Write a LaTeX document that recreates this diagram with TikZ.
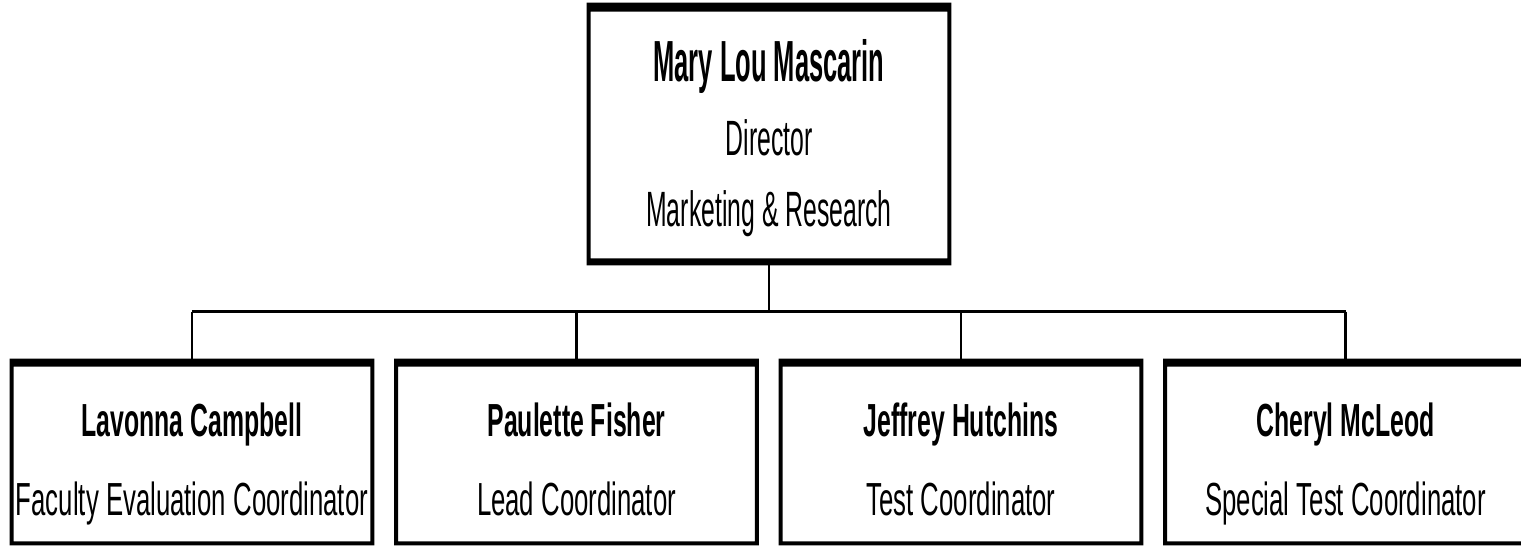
\documentclass[tikz,border=0pt]{standalone}
\usepackage{fontspec}
\setmainfont{Liberation Sans}
\newfontfamily\topnamefont[FakeStretch=0.44]{Liberation Sans}
\newfontfamily\topregfont[FakeStretch=0.50]{Liberation Sans}
\newfontfamily\botnamefont[FakeStretch=0.535]{Liberation Sans}
\newfontfamily\botregfont[FakeStretch=0.555]{Liberation Sans}
\usetikzlibrary{calc}
\tikzset{
  orgbox/.style={draw=none, inner sep=0pt, minimum width=182pt},
  topbox/.style={orgbox, minimum height=131pt},
  botbox/.style={orgbox, minimum height=93pt},
  conn/.style={line width=1.25pt, black},
  tname/.style={anchor=base, inner sep=0pt, font=\topnamefont\bfseries\fontsize{29}{29}\selectfont},
  treg/.style={anchor=base, inner sep=0pt, font=\topregfont\fontsize{24.8}{24.8}\selectfont},
  bname/.style={anchor=base, inner sep=0pt, font=\botnamefont\bfseries\fontsize{23.2}{23.2}\selectfont},
  breg/.style={anchor=base, inner sep=0pt, font=\botregfont\fontsize{23.2}{23.2}\selectfont},
}
% #1 node name, #2 top, #3 side, #4 bottom thickness (px)
\newcommand\boxborder[4]{%
  \fill[black, even odd rule] (#1.north west) rectangle (#1.south east)
    ($(#1.north west)+(#3,#2)$) rectangle ($(#1.south east)+(-#3,-#4)$);}
\begin{document}
\begin{tikzpicture}[x=0.5pt, y=-0.5pt]
\useasboundingbox (0,0) rectangle (1521,547);
\fill[white] (0,0) rectangle (1521,547);
% boxes
\node[topbox] (top) at (769,134) {};
\node[botbox] (b1) at (192,452) {};
\node[botbox] (b2) at (576.5,452) {};
\node[botbox] (b3) at (961,452) {};
\node[botbox] (b4) at (1345.5,452) {};
\coordinate (bus) at (192,311.5);
% connectors
\draw[conn] (top.south) -- (top.south |- bus);
\draw[conn] (b1.north |- bus) -- (b4.north |- bus);
\foreach \b in {b1,b2,b3,b4} { \draw[conn] (\b.north |- bus) -- (\b.north); }
% borders
\boxborder{top}{9}{4}{7}
\foreach \b in {b1,b2,b3,b4} { \boxborder{\b}{8}{4}{4} }
% texts
\node[tname] (t1) at (769,81.7) {Mary Lou Mascarin};
\node[treg] (t2) at (769,155) {Director};
\node[treg] (t3) at (769,226.7) {Marketing \& Research};
\node[bname] (n1) at (192,436.7) {Lavonna Campbell};
\node[breg] (r1) at (192,515) {Faculty Evaluation Coordinator};
\node[bname] (n2) at (576.5,436.7) {Paulette Fisher};
\node[breg] (r2) at (576.5,515) {Lead Coordinator};
\node[bname] (n3) at (961,436.7) {Jeffrey Hutchins};
\node[breg] (r3) at (961,515) {Test Coordinator};
\node[bname] (n4) at (1345.5,436.7) {Cheryl McLeod};
\node[breg] (r4) at (1345.5,515) {Special Test Coordinator};
\end{tikzpicture}
\end{document}
